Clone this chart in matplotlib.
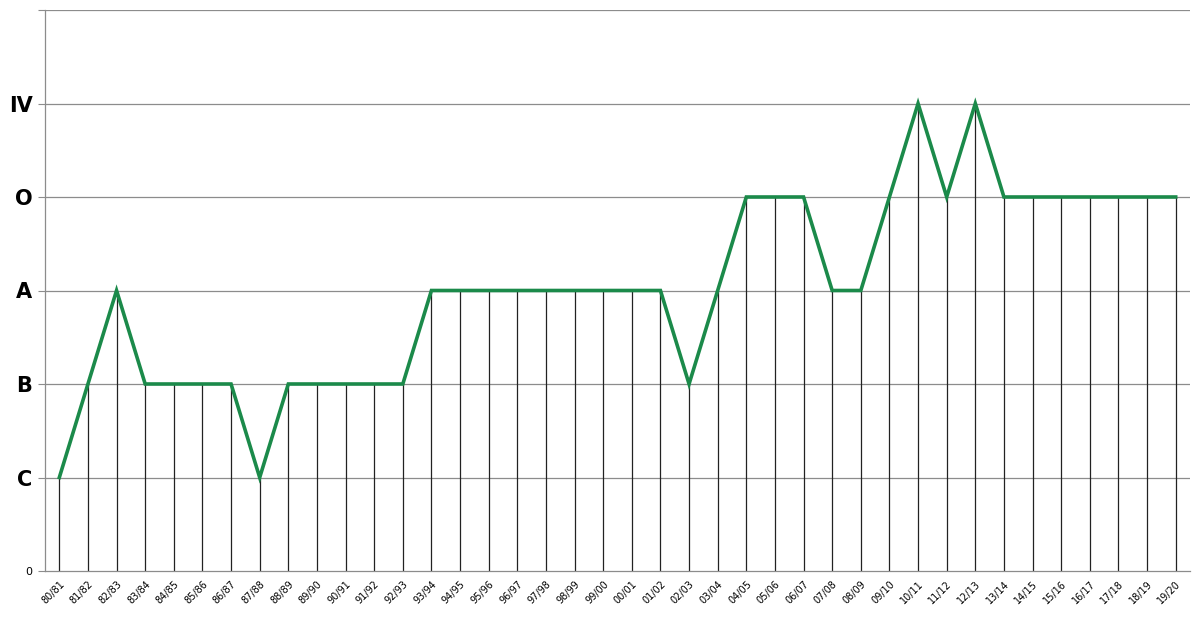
import matplotlib
matplotlib.use("Agg")
import matplotlib.pyplot as plt

seasons = ["80/81","81/82","82/83","83/84","84/85","85/86","86/87","87/88","88/89","89/90",
           "90/91","91/92","92/93","93/94","94/95","95/96","96/97","97/98","98/99","99/00",
           "00/01","01/02","02/03","03/04","04/05","05/06","06/07","07/08","08/09","09/10",
           "10/11","11/12","12/13","13/14","14/15","15/16","16/17","17/18","18/19","19/20"]
levels = [1,2,3,2,2,2,2,1,2,2,
          2,2,2,3,3,3,3,3,3,3,
          3,3,2,3,4,4,4,3,3,4,
          5,4,5,4,4,4,4,4,4,4]
ytick_vals = [0,1,2,3,4,5,6]
ytick_labels = ["0","C","B","A","O","IV",""]

fig = plt.figure(figsize=(12,6.38), dpi=100)
ax = fig.add_axes([45/1200, 67/638, 1145/1200, 561/638])
x = list(range(len(seasons)))
ax.set_xlim(-0.5, len(seasons)-0.5)
ax.set_ylim(0, 6)
for yv in ytick_vals[1:]:
    ax.axhline(yv, color="#8c8c8c", lw=0.9, zorder=1)
ax.vlines(x, 0, levels, color="#222222", lw=0.9, zorder=2)
ax.plot(x, levels, color="#1b8a4a", lw=2.6, zorder=3, solid_joinstyle="miter")

ax.set_yticks(ytick_vals)
ax.set_yticklabels(ytick_labels)
for i, t in enumerate(ax.get_yticklabels()):
    if i == 0:
        t.set_fontsize(8)
    else:
        t.set_fontsize(15)
        t.set_fontweight("bold")
        t.set_family("DejaVu Sans")
ax.tick_params(axis="y", length=5, color="#8c8c8c", pad=4)
ax.set_xticks(x)
ax.set_xticklabels(seasons, rotation=45, ha="right", rotation_mode="anchor", fontsize=7)
ax.tick_params(axis="x", length=0, pad=6)
for s in ["top","right"]:
    ax.spines[s].set_visible(False)
for s in ["left","bottom"]:
    ax.spines[s].set_color("#8c8c8c")
    ax.spines[s].set_linewidth(0.9)
fig.savefig("out.png", dpi=100)
